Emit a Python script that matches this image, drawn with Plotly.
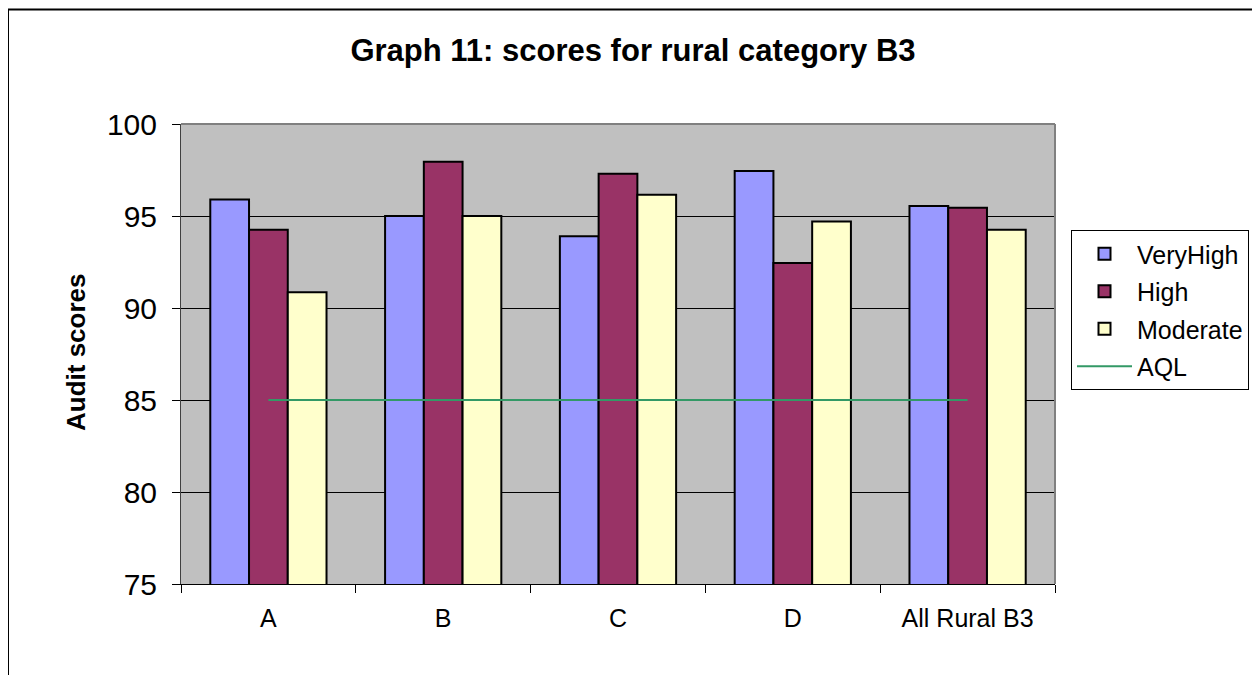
import plotly.graph_objects as go

categories = ["A", "B", "C", "D", "All Rural B3"]
very_high = [95.9, 95.0, 93.9, 97.45, 95.55]
high = [94.25, 97.95, 97.3, 92.45, 95.45]
moderate = [90.85, 95.0, 96.15, 94.7, 94.25]
aql = [85, 85, 85, 85, 85]

FONT = "Liberation Sans, Arial, sans-serif"

fig = go.Figure()
fig.add_trace(go.Bar(x=categories, y=very_high, name="VeryHigh", legendgroup="g1",
                     marker=dict(color="#9999FF", line=dict(color="black", width=2))))
fig.add_trace(go.Bar(x=categories, y=high, name="High", legendgroup="g2",
                     marker=dict(color="#993366", line=dict(color="black", width=2))))
fig.add_trace(go.Bar(x=categories, y=moderate, name="Moderate", legendgroup="g3",
                     marker=dict(color="#FFFFCC", line=dict(color="black", width=2))))
fig.add_trace(go.Scatter(x=categories, y=aql, name="AQL", mode="lines", legendgroup="g4",
                         line=dict(color="#339966", width=2)))

# page offset (body margin)
OFF = 8
W, H = 1260 - OFF, 675 - OFF
# plot area in page coordinates
PL, PT, PR, PB = 181, 124, 1055, 584
L, T = PL - OFF, PT - OFF
PW, PH = PR - PL, PB - PT
R = W - L - PW
B = H - T - PH

def px(x):
    return (x - PL) / PW

def py(y):
    return (PB - y) / PH

fig.update_layout(
    width=W, height=H,
    margin=dict(l=L, r=R, t=T, b=B, autoexpand=False),
    paper_bgcolor="white",
    plot_bgcolor="#C0C0C0",
    barmode="group",
    bargap=0.335,
    bargroupgap=0,
    font=dict(family=FONT, color="black"),
    title=dict(text="<b>Graph 11: scores for rural category B3</b>",
               x=(633 - OFF) / W, xanchor="center", y=1 - (50 - OFF) / H, yanchor="middle",
               font=dict(size=31, family=FONT, color="black")),
    legend=dict(x=px(1071), xanchor="left", y=py(230), yanchor="top",
                bgcolor="white", bordercolor="black", borderwidth=1,
                font=dict(size=25, family=FONT), tracegroupgap=2,
                itemwidth=55),
    showlegend=True,
)
fig.update_xaxes(type="category", tickson="boundaries", ticks="outside", ticklen=8,
                 tickcolor="black", showline=True, linecolor="black", linewidth=1,
                 tickfont=dict(size=25, family=FONT), showgrid=False, mirror=False,
                 ticklabelstandoff=12)
fig.update_yaxes(range=[75, 100], tickvals=[75, 80, 85, 90, 95, 100], ticks="outside",
                 ticklen=8, tickcolor="black", showline=True, linecolor="#404040",
                 linewidth=1, showgrid=True, gridcolor="black", gridwidth=1,
                 tickfont=dict(size=30, family=FONT), ticklabelstandoff=9,
                 zeroline=False)

# y-axis title
fig.add_annotation(text="<b>Audit scores</b>", textangle=-90, x=px(76), y=py(352),
                   xref="paper", yref="paper", xanchor="center", yanchor="middle",
                   showarrow=False,
                   font=dict(size=26, family=FONT, color="black"))

# plot area border (top and right gray)
fig.add_shape(type="line", xref="paper", yref="paper", x0=0, x1=1, y0=1, y1=1,
              line=dict(color="#808080", width=2))
fig.add_shape(type="line", xref="paper", yref="paper", x0=1, x1=1, y0=0, y1=1,
              line=dict(color="#808080", width=2))
# outer chart border
fig.add_shape(type="line", xref="paper", yref="paper", x0=px(8), x1=px(1259), y0=py(9.5), y1=py(9.5),
              line=dict(color="black", width=2))
fig.add_shape(type="line", xref="paper", yref="paper", x0=px(8), x1=px(8), y0=py(9.5), y1=py(690),
              line=dict(color="black", width=2))
fig.add_shape(type="line", xref="paper", yref="paper", x0=px(1258.5), x1=px(1258.5), y0=py(9.5), y1=py(690),
              line=dict(color="#808080", width=2))

fig.write_html("out.html")
